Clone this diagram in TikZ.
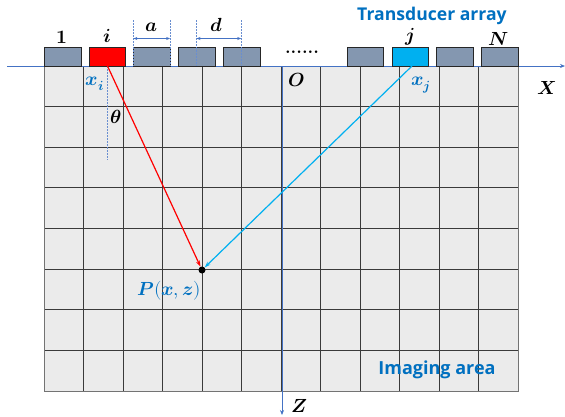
\documentclass[tikz,border=0pt]{standalone}
\usepackage{fontspec}
\usepackage{unicode-math}
\setmathfont{Latin Modern Math}
\setsansfont{Open Sans}
\usetikzlibrary{arrows.meta}
\definecolor{gridfill}{HTML}{EBEBEB}
\definecolor{gridline}{HTML}{3A3A3A}
\definecolor{elemfill}{HTML}{8497B0}
\definecolor{axisblue}{HTML}{4472C4}
\definecolor{txtblue}{HTML}{0070C0}
\definecolor{cyanray}{HTML}{00B0F0}
\begin{document}
\begin{tikzpicture}[x=1pt,y=-1pt,
  elem/.style={draw=black!85,line width=0.8pt,fill=elemfill,minimum width=36.7pt,minimum height=19pt,inner sep=0pt,anchor=north west},
  lab/.style={font=\fontsize{19}{22}\selectfont,inner sep=0pt},
  bluelab/.style={lab,text=txtblue},
  title/.style={font=\sffamily\bfseries,text=txtblue,inner sep=0pt},
  axis/.style={draw=axisblue,line width=0.7pt,-{Stealth[length=5pt,width=4pt]}},
  dimline/.style={draw=axisblue!80,dash pattern=on 1.5pt off 1.5pt,line width=0.5pt},
  dimarrow/.style={draw=axisblue,line width=0.6pt,{Stealth[length=4pt,width=3pt]}-{Stealth[length=4pt,width=3pt]}},
  ray/.style={line width=1.2pt,-{Stealth[length=6pt,width=4pt]}}]
\useasboundingbox (0,0) rectangle (565,416);
% imaging area grid
\fill[gridfill] (44,66) rectangle (518,391);
\foreach \k in {1,...,11}{\draw[gridline,line width=0.8pt] ({44+39.5*\k},66) -- ({44+39.5*\k},391);}
\foreach \k in {1,...,7}{\draw[gridline,line width=0.8pt] (44,{66+40.625*\k}) -- (518,{66+40.625*\k});}
\draw[black!55,line width=1pt] (44,66) rectangle (518,391);
% axes
\coordinate (xs) at (7,66);
\coordinate (xe) at (565,66);
\coordinate (zs) at (282,66);
\coordinate (ze) at (282,415);
\draw[axis] (xs) -- (xe);
\draw[axis] (zs) -- (ze);
% transducer elements
\node[elem] (e1) at (44,47) {};
\node[elem,fill=red] (ei) at (88.7,47) {};
\node[elem] (e3) at (133.4,47) {};
\node[elem] (e4) at (178.1,47) {};
\node[elem] (e5) at (222.8,47) {};
\node[elem] (e6) at (346.7,47) {};
\node[elem,fill=cyanray] (ej) at (391.5,47) {};
\node[elem] (e8) at (436.3,47) {};
\node[elem] (eN) at (481.1,47) {};
\node[lab,font=\bfseries\fontsize{18}{20}\selectfont] (dots) at (302,52) {......};
% element labels
\node[lab] (l1) at (62,37) {$\symbf{1}$};
\node[lab] (li) at (107,36) {$\symbfit{i}$};
\node[lab] (lj) at (410,37) {$\symbfit{j}$};
\node[lab] (lN) at (499,39) {$\symbfit{N}$};
\node[title,font=\sffamily\bfseries\fontsize{17.6}{20}\selectfont] (ttl) at (432,16) {Transducer array};
% dimensions a and d
\coordinate (a1t) at (133.4,20); \coordinate (a1b) at (133.4,66);
\coordinate (a2t) at (170.1,20); \coordinate (a2b) at (170.1,66);
\coordinate (d1t) at (196.5,20); \coordinate (d1b) at (196.5,66);
\coordinate (d2t) at (241.2,20); \coordinate (d2b) at (241.2,66);
\draw[dimline] (a1t) -- (a1b);
\draw[dimline] (a2t) -- (a2b);
\draw[dimline] (d1t) -- (d1b);
\draw[dimline] (d2t) -- (d2b);
\coordinate (aa1) at (133.4,38.5); \coordinate (aa2) at (170.1,38.5);
\coordinate (dd1) at (196.5,38.5); \coordinate (dd2) at (241.2,38.5);
\draw[dimarrow] (aa1) -- (aa2);
\draw[dimarrow] (dd1) -- (dd2);
\node[lab] (la) at (152,27) {$\symbfit{a}$};
\node[lab] (ld) at (217,25) {$\symbfit{d}$};
% positions
\coordinate (xi) at (107.5,66);
\coordinate (xj) at (412,66);
\coordinate (thb) at (107.5,160);
\draw[dimline] (xi) -- (thb);
\node[circle,fill=black,inner sep=0pt,minimum size=7pt] (P) at (202,270) {};
\draw[ray,red] (xi) -- (P);
\draw[ray,cyanray] (xj) -- (P);
\node[bluelab] (lxi) at (95,84) {$\symbfit{x}_{\symbfit{i}}$};
\node[bluelab] (lxj) at (421,85) {$\symbfit{x}_{\symbfit{j}}$};
\node[lab] (lth) at (116,117) {$\symbfit{\theta}$};
\node[lab] (lO) at (297,80) {$\symbfit{O}$};
\node[lab] (lX) at (547,88) {$\symbfit{X}$};
\node[lab] (lZ) at (299,406) {$\symbfit{Z}$};
\node[bluelab] (lP) at (169,291) {$\symbfit{P}(\symbfit{x}{,}\,\symbfit{z})$};
\node[title,font=\sffamily\bfseries\fontsize{18}{21}\selectfont] (img) at (437,370) {Imaging area};
\end{tikzpicture}
\end{document}
